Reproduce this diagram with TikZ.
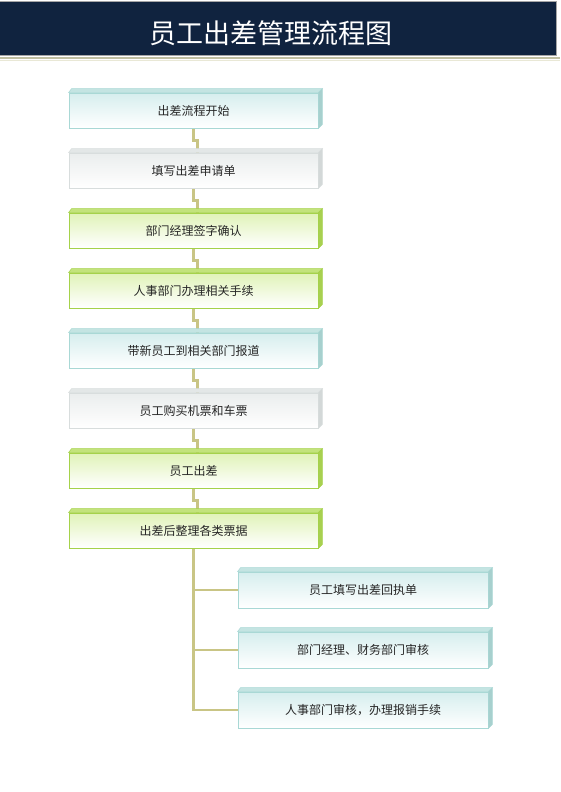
\documentclass[tikz,border=0pt]{standalone}
\usepackage{fontspec}
\usepackage{tikz}
\usetikzlibrary{backgrounds}
\newfontfamily\cjk{Noto Sans CJK SC}

\definecolor{navy}{HTML}{10233F}
\definecolor{linkc}{HTML}{C9C585}
\definecolor{bluetop}{HTML}{D6EEEE}
\definecolor{blueline}{HTML}{A9D8D5}
\definecolor{bluelid}{HTML}{C4E4E2}
\definecolor{blueside}{HTML}{A7D0CE}
\definecolor{greytop}{HTML}{EAEDED}
\definecolor{greyline}{HTML}{D8DDDD}
\definecolor{greylid}{HTML}{E3E7E7}
\definecolor{greyside}{HTML}{D3D8D8}
\definecolor{greentop}{HTML}{E0F3B8}
\definecolor{greenline}{HTML}{A5D24A}
\definecolor{greenlid}{HTML}{C3E37C}
\definecolor{greenside}{HTML}{A8D050}

% top and side of a box: #1 node, #2 colour set
\newcommand\boxlid[2]{%
  \filldraw[fill=#2lid,draw=#2line,line width=0.5pt](#1.north west)--++(3,-4)--([shift={(4,-4)}]#1.north east)--(#1.north east)--cycle;
  \filldraw[fill=#2side,draw=#2line,line width=0.5pt](#1.north east)--++(4,-4)--([shift={(4,-4)}]#1.south east)--(#1.south east)--cycle;
}

\begin{document}
\begin{tikzpicture}[x=1pt,y=-1pt,
    box/.style={draw=#1line,line width=0.8pt,top color=#1top,bottom color=white,
        minimum width=249pt,minimum height=35pt,inner sep=0pt,text=black!85,
        font=\cjk\fontsize{12}{14}\selectfont},
    subbox/.style={box=#1,minimum width=250pt,minimum height=36pt},
    link/.style={draw=linkc,line width=2.3pt}]
    \useasboundingbox(0,0)rectangle(560,792);

    % title bar
    \filldraw[fill=navy,draw=black!35,line width=0.8pt](-1,1)rectangle(556.5,55);
    \draw[color=black!25!linkc!60,line width=1.6pt](0,58)--(560,58);
    \draw[color=black!10!linkc!30,line width=1pt](0,60.5)--(560,60.5);
    \node[text=white,font=\cjk\fontsize{27}{30}\selectfont](title)at(271,33){员工出差管理流程图};

    % main steps
    \node[box=blue](start)at(193.5,110.5){出差流程开始};
    \node[box=grey](apply)at(193.5,170.5){填写出差申请单};
    \node[box=green](sign)at(193.5,230.5){部门经理签字确认};
    \node[box=green](hr)at(193.5,290.5){人事部门办理相关手续};
    \node[box=blue](guide)at(193.5,350.5){带新员工到相关部门报道};
    \node[box=grey](ticket)at(193.5,410.5){员工购买机票和车票};
    \node[box=green](trip)at(193.5,470.5){员工出差};
    \node[box=green](bills)at(193.5,530.5){出差后整理各类票据};

    % after the trip
    \node[subbox=blue](receipt)at(363,590){员工填写出差回执单};
    \node[subbox=blue](audit)at(363,650){部门经理、财务部门审核};
    \node[subbox=blue](reimb)at(363,710){人事部门审核，办理报销手续};

    \boxlid{start}{blue}
    \boxlid{apply}{grey}
    \boxlid{sign}{green}
    \boxlid{hr}{green}
    \boxlid{guide}{blue}
    \boxlid{ticket}{grey}
    \boxlid{trip}{green}
    \boxlid{bills}{green}
    \boxlid{receipt}{blue}
    \boxlid{audit}{blue}
    \boxlid{reimb}{blue}

    \begin{scope}[on background layer]
        \draw[link](start.south)--++(0,12)-|([xshift=4pt]apply.north);
        \draw[link](apply.south)--++(0,12)-|([xshift=4pt]sign.north);
        \draw[link](sign.south)--++(0,12)-|([xshift=4pt]hr.north);
        \draw[link](hr.south)--++(0,12)-|([xshift=4pt]guide.north);
        \draw[link](guide.south)--++(0,12)-|([xshift=4pt]ticket.north);
        \draw[link](ticket.south)--++(0,12)-|([xshift=4pt]trip.north);
        \draw[link](trip.south)--++(0,12)-|([xshift=4pt]bills.north);

        \draw[link](bills.south)|-(receipt.west);
        \draw[link](bills.south)|-(audit.west);
        \draw[link](bills.south)|-(reimb.west);
    \end{scope}
\end{tikzpicture}
\end{document}
